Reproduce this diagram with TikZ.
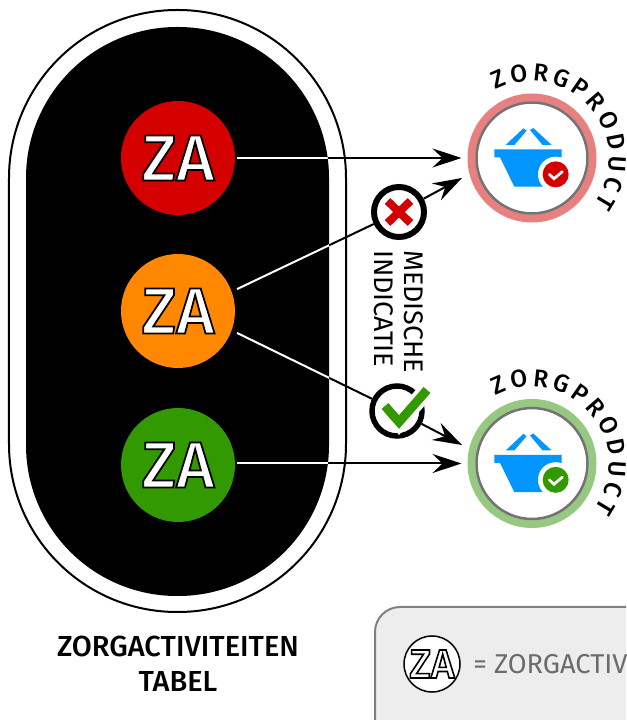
\documentclass[tikz,border=0pt]{standalone}
\usepackage{fontspec}
\setmainfont{Fira Sans}
\newfontfamily\medfont{Fira Sans Medium}
\usetikzlibrary{arrows.meta}
\usetikzlibrary{decorations.text}
\definecolor{zared}{HTML}{D40000}
\definecolor{zaorange}{HTML}{FF8800}
\definecolor{zagreen}{HTML}{339900}
\definecolor{ringred}{HTML}{E88080}
\definecolor{ringgreen}{HTML}{96C882}
\definecolor{basketblue}{HTML}{0095FF}
\newcommand{\zaoutline}[1]{\special{pdf:code 2 Tr #1 w 0 0 0 RG}ZA\special{pdf:code 0 Tr}}
\newcommand{\prodfont}{\medfont\fontsize{14}{15}\selectfont}
\tikzset{
    zanode/.style = {circle, minimum size=2.28cm, inner sep=0pt, outer sep=0.04cm, text=white, font=\medfont\fontsize{37}{37}\selectfont},
    prodnode/.style = {circle, draw=#1, line width=0.16cm, fill=white, minimum size=2.42cm, inner sep=0pt},
    prodinner/.style = {circle, draw=black!55, line width=0.05cm, minimum size=2.22cm, inner sep=0pt},
    signnode/.style = {circle, draw=black, line width=0.12cm, fill=white, minimum size=1.0cm, inner sep=0pt},
    edgen/.style = {-{Stealth[length=0.58cm,width=0.38cm,inset=0.2cm]},line width=0.04cm,black},
    edgep/.style = {line width=0.04cm,black,shorten <=0.08cm},
    edgew/.style = {line width=0.04cm,white},
    crossline/.style = {line width=0.16cm,zared},
    checkline/.style = {line width=0.18cm,zagreen},
    prodtext/.style = {decorate,decoration={text along path,text align=fit to path,text={|\prodfont|ZORGPRODUCT}}},
    basket/.pic = {
        \fill[basketblue] (-0.753,0.173) -- (0.593,0.173) -- (0.593,0.013) -- (0.493,0.013) -- (0.213,-0.573) -- (-0.353,-0.573) -- (-0.64,0.013) -- (-0.753,0.013) -- cycle;
        \fill[basketblue] (-0.527,0.26) -- (-0.173,0.593) -- (-0.107,0.547) -- (-0.353,0.26) -- cycle;
        \fill[basketblue] (-0.04,0.56) -- (0.027,0.6) -- (0.393,0.26) -- (0.213,0.26) -- cycle;
        \fill[white] (0.473,-0.327) circle (0.353);
        \fill[#1] (0.473,-0.327) circle (0.26);
        \draw[white,line width=0.055cm,line cap=round] (0.346,-0.327) -- (0.44,-0.414) -- (0.606,-0.274);
    }
}
\begin{document}
\begin{tikzpicture}
\useasboundingbox (0,0) rectangle (12.52,14.4);
\clip (0,0) rectangle (12.52,14.4);
%
\path[draw=black,line width=0.04cm,rounded corners=3.36cm] (0.18,2.16) rectangle (6.92,14.2);
\path[fill=black,rounded corners=3.02cm] (0.52,2.48) rectangle (6.58,13.86);
%
\node[zanode,fill=zared] at (3.56,11.24) (za1) {\zaoutline{1}};
\node[zanode,fill=zaorange] at (3.56,8.18) (za2) {\zaoutline{1}};
\node[zanode,fill=zagreen] at (3.56,5.10) (za3) {\zaoutline{1}};
%
\node[prodnode=ringred] at (10.64,11.24) (prod1) {};
\node[prodinner] at (10.64,11.24) (prodin1) {};
\node[prodnode=ringgreen] at (10.64,5.13) (prod2) {};
\node[prodinner] at (10.64,5.13) (prodin2) {};
\pic at (prod1.center) {basket=zared};
\pic at (prod2.center) {basket=zagreen};
\path[prodtext] ([shift={(118:1.54)}]prod1.center) arc[start angle=118,end angle=-36,radius=1.54];
\path[prodtext] ([shift={(118:1.54)}]prod2.center) arc[start angle=118,end angle=-36,radius=1.54];
%
\node[signnode] at (7.98,10.16) (nox) {};
\node[signnode,line width=0.11cm] at (7.94,6.18) (yes) {};
\coordinate (in1) at (9.24,10.84);
\coordinate (in2) at (9.24,5.50);
%
\draw[edgen] (za1) -- ([xshift=-0.12cm]prod1.west);
\draw[edgen] (za3.east |- prod2.west) -- ([xshift=-0.12cm]prod2.west);
\draw[edgep] (za2.20) -- (nox);
\draw[edgen] (nox) -- (in1);
\draw[edgep] (za2.-20) -- (yes);
\draw[edgen] (yes) -- (in2);
% white where the lines cross the black
\begin{scope}
\clip[rounded corners=3.02cm] (0.52,2.48) rectangle (6.58,13.86);
\draw[edgew] (za1) -- (prod1);
\draw[edgew] (za3.east |- prod2.west) -- (prod2);
\draw[edgew,shorten <=0.08cm] (za2.20) -- (nox);
\draw[edgew,shorten <=0.08cm] (za2.-20) -- (yes);
\end{scope}
%
\draw[crossline] ([shift={(-0.23,0.22)}]nox.center) -- ([shift={(0.23,-0.22)}]nox.center);
\draw[crossline] ([shift={(-0.23,-0.22)}]nox.center) -- ([shift={(0.23,0.22)}]nox.center);
\draw[white,line width=0.34cm] ([shift={(-0.24,0.10)}]yes.center) -- ([shift={(0.04,-0.22)}]yes.center) -- ([shift={(0.60,0.42)}]yes.center);
\draw[checkline] ([shift={(-0.24,0.10)}]yes.center) -- ([shift={(0.04,-0.22)}]yes.center) -- ([shift={(0.60,0.42)}]yes.center);
%
\node[rotate=-90,anchor=north west,inner sep=0pt,align=left,font=\fontsize{15.3}{17}\selectfont] at (8.47,9.40) (medind) {MEDISCHE\\INDICATIE};
\node[align=center,font=\medfont\fontsize{16.5}{20}\selectfont] at (3.56,1.12) (tabel) {ZORGACTIVITEITEN\\TABEL};
%
\node[draw=black!50,line width=0.04cm,fill=black!7,rounded corners=0.5cm,anchor=north west,minimum width=8cm,minimum height=5cm] at (7.48,2.28) (legend) {};
\node[circle,draw=black,line width=0.03cm,fill=white,minimum size=1.12cm,inner sep=0pt,font=\medfont\fontsize{23}{23}\selectfont,text=white] at (8.64,1.12) (zalegend) {\zaoutline{0.9}};
\node[anchor=west,inner sep=0pt,text=black!58,font=\fontsize{15.5}{17}\selectfont] at (9.46,1.12) (zatext) {= ZORGACTIVITEIT};

\end{tikzpicture}
\end{document}
